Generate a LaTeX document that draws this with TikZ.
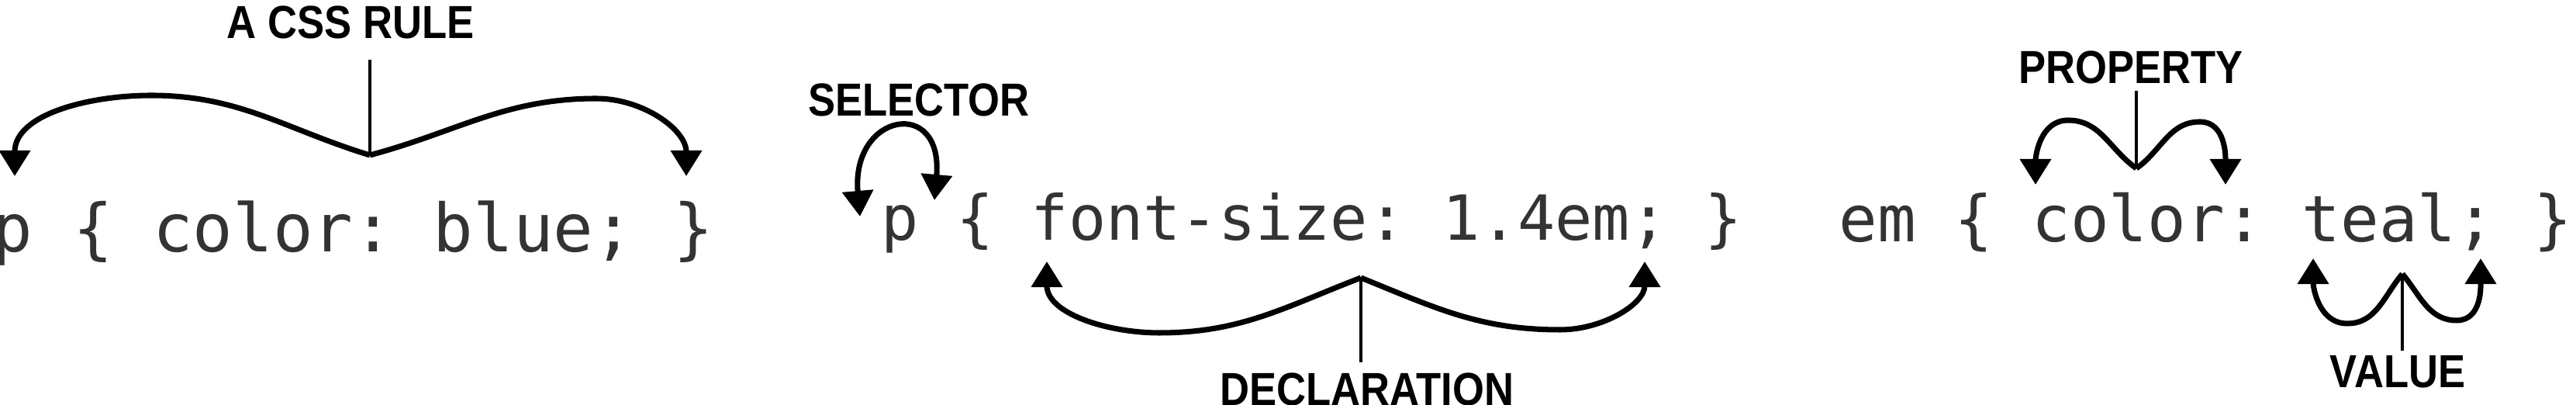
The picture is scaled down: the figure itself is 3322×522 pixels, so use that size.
\documentclass[tikz,border=0pt]{standalone}
\usepackage{fontspec}
\setmonofont{DejaVu Sans Mono}
\newfontfamily\tagfont[FakeStretch=0.88]{Liberation Sans}
\usetikzlibrary{arrows.meta}

\tikzset{
  codetxt/.style={inner sep=0pt,anchor=base west,text=black!80,
    font=\ttfamily\fontsize{#1}{#1}\selectfont},
  tagtxt/.style={inner sep=0pt,anchor=base,
    font=\tagfont\bfseries\fontsize{17pt}{17pt}\selectfont},
  curly/.style={line width=2pt,->},
  stalk/.style={line width=1.3pt},
}

\begin{document}
\begin{tikzpicture}[x=0.01cm,y=0.01cm,>={Triangle[length=3.3mm,width=3.9mm]}]
  \useasboundingbox (0,0) rectangle (3322,522);
  % Code lines
  \node[codetxt=24.4pt] (rule) at (-10,197) {p \{ color: blue; \}};
  \node[codetxt=22.8pt] (decl) at (1136,212) {p \{ font-size: 1.4em; \}};
  \node[codetxt=23.5pt] (emrule) at (2371,210) {em \{ color: teal; \}};
  % Labels
  \node[tagtxt] (rulelbl) at (452,472) {A CSS RULE};
  \node[tagtxt] (sellbl) at (1185,372) {SELECTOR};
  \node[tagtxt] (decllbl) at (1763,-1) {DECLARATION};
  \node[tagtxt] (proplbl) at (2748,414) {PROPERTY};
  \node[tagtxt] (vallbl) at (3092,22) {VALUE};
  % Joins, bends and arrow ends
  \coordinate (ruletop) at (477,445);
  \coordinate (rulejoin) at (477,322);
  \coordinate (rulelp) at (195,399);
  \coordinate (rulerp) at (769,395);
  \coordinate (rulel) at (19,295);
  \coordinate (ruler) at (885,295);
  \coordinate (sell) at (1109,243);
  \coordinate (selr) at (1205,264);
  \coordinate (declbot) at (1755,55);
  \coordinate (decljoin) at (1755,164);
  \coordinate (decllp) at (1495,93);
  \coordinate (declrp) at (2012,97);
  \coordinate (decll) at (1350,185);
  \coordinate (declr) at (2121,185);
  \coordinate (proptop) at (2755,405);
  \coordinate (propjoin) at (2755,305);
  \coordinate (proplp) at (2667,367);
  \coordinate (proprp) at (2837,365);
  \coordinate (propl) at (2625,284);
  \coordinate (propr) at (2870,284);
  \coordinate (valbot) at (3098,70);
  \coordinate (valjoin) at (3098,169);
  \coordinate (vallp) at (3027,105);
  \coordinate (valrp) at (3168,109);
  \coordinate (vall) at (2983,189);
  \coordinate (valr) at (3199,189);
  % A CSS rule
  \draw[stalk] (ruletop) -- (rulejoin);
  \draw[curly] (rulejoin) to[out=163,in=0] (rulelp) to[out=180,in=90] (rulel);
  \draw[curly] (rulejoin) to[out=15,in=180] (rulerp) to[out=0,in=90] (ruler);
  % Selector
  \draw[curly,<->] (sell) to[out=95,in=85,looseness=3.5] (selr);
  % Declaration
  \draw[stalk] (declbot) -- (decljoin);
  \draw[curly] (decljoin) to[out=201,in=0] (decllp) to[out=180,in=-90] (decll);
  \draw[curly] (decljoin) to[out=-22,in=180] (declrp) to[out=0,in=-90] (declr);
  % Property
  \draw[stalk] (proptop) -- (propjoin);
  \draw[curly] (propjoin) to[out=145,in=0] (proplp) to[out=180,in=90] (propl);
  \draw[curly] (propjoin) to[out=35,in=180] (proprp) to[out=0,in=90] (propr);
  % Value
  \draw[stalk] (valbot) -- (valjoin);
  \draw[curly] (valjoin) to[out=230,in=0] (vallp) to[out=180,in=-90] (vall);
  \draw[curly] (valjoin) to[out=-50,in=180] (valrp) to[out=0,in=-90] (valr);
\end{tikzpicture}
\end{document}
